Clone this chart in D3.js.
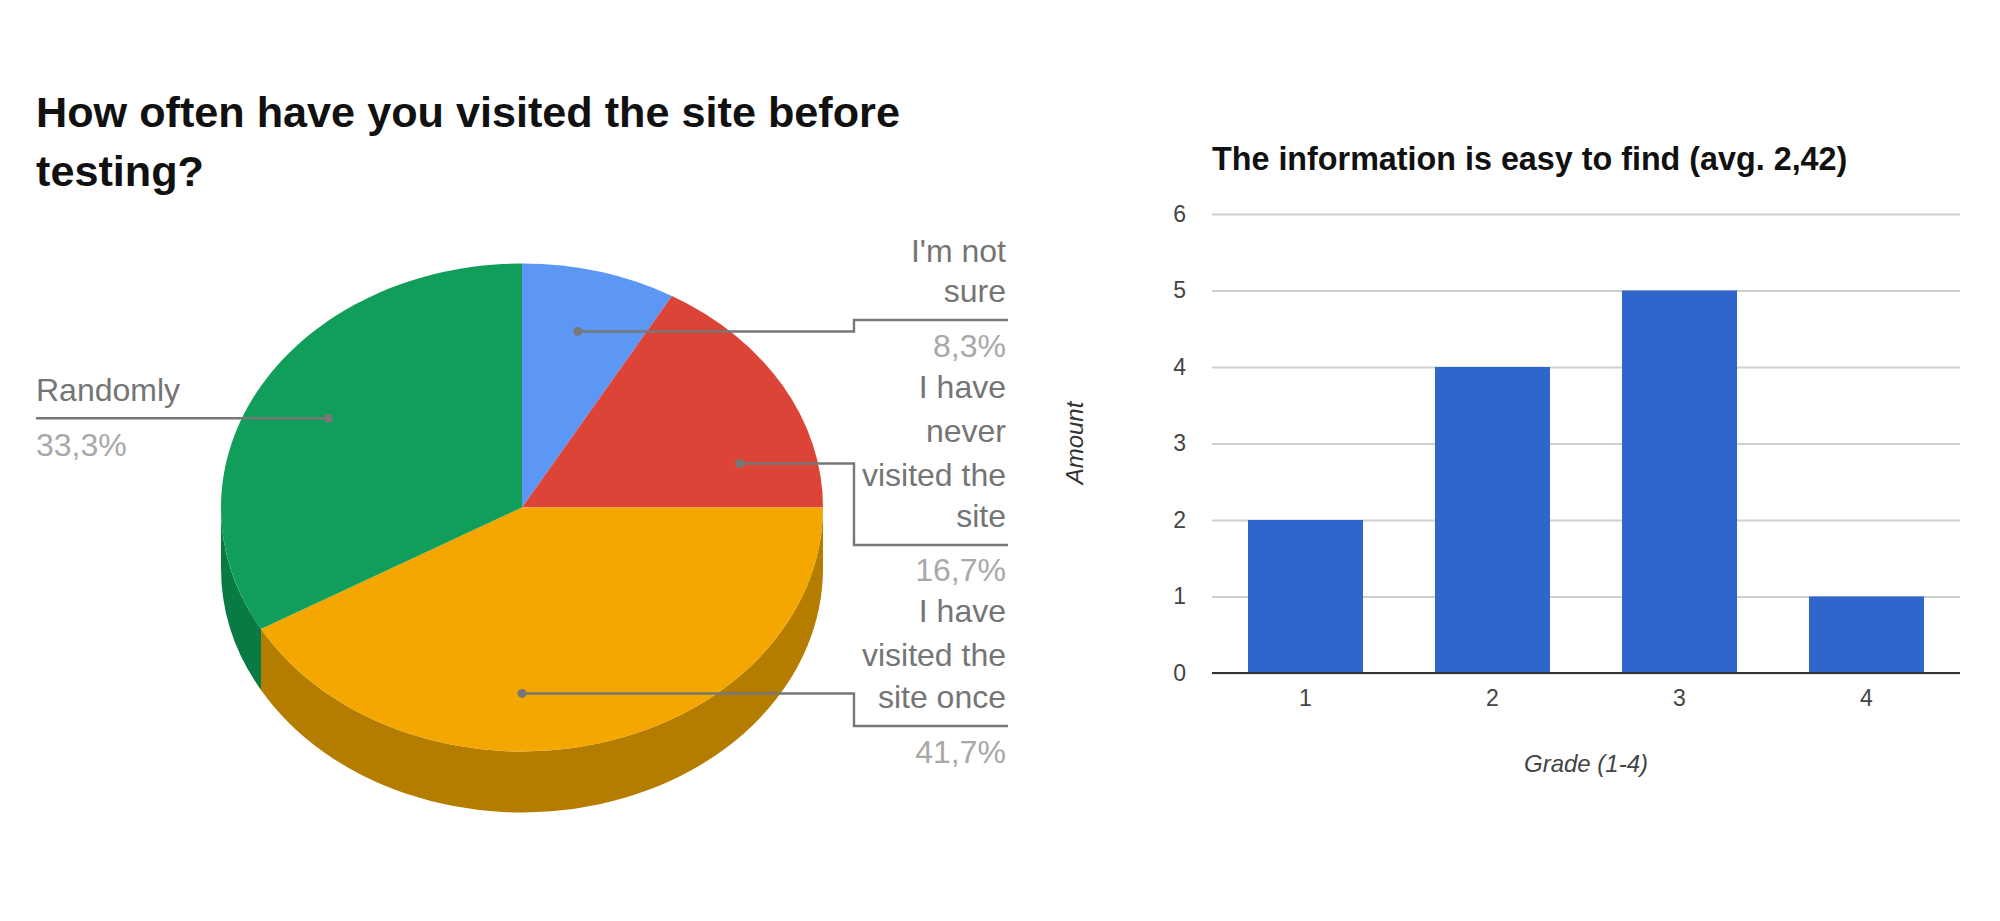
<!DOCTYPE html>
<html>
<head>
<meta charset="utf-8">
<title>Survey charts</title>
<script src="https://cdn.jsdelivr.net/npm/d3@7"></script>
<style>
    html, body { margin: 0; padding: 0; background: #fff; }
    svg { display: block; }
    text { font-family: "Liberation Sans", Arial, sans-serif; }
</style>
</head>
<body>
<svg id="chart" width="2000" height="921"></svg>
<script>
// pie data
var pieTitle = ["How often have you visited the site before", "testing?"];
var pieNames = [["I'm not", "sure"], ["I have", "never", "visited the", "site"], ["I have", "visited the", "site once"], ["Randomly"]];
var pieShares = [8.3, 16.7, 41.7, 33.3];
var pieLabels = ["8,3%", "16,7%", "41,7%", "33,3%"];
var pieColors = ["#5c97f6", "#db4437", "#f4a700", "#119e5a"];
var pieSideColors = ["#3f6bb0", "#9a2f27", "#b57d00", "#0a7a45"];

// bar data
var barTitle = "The information is easy to find (avg. 2,42)";
var grades = ["1", "2", "3", "4"];
var amounts = [2, 4, 5, 1];
var amountTicks = [0, 1, 2, 3, 4, 5, 6];

var svg = d3.select("#chart");

// ---- 3d pie ----
var cx = 522, cy = 507.5, rx = 301, ry = 244, depth = 61;
var squash = ry / rx;

var slices = d3.pie().value(function (d) { return d; }).sort(null)(pieShares);
var arc = d3.arc().innerRadius(0).outerRadius(rx);

function ptX(a) { return cx + rx * Math.sin(a); }
function ptY(a) { return cy - ry * Math.cos(a); }

// side wall, only the front half of the ellipse shows
var sides = svg.append("g");
slices.forEach(function (s, i) {
    var a0 = Math.max(s.startAngle, Math.PI / 2);
    var a1 = Math.min(s.endAngle, Math.PI * 1.5);
    if (a1 <= a0) return;
    var d = "M" + ptX(a0) + "," + ptY(a0) +
        "A" + rx + "," + ry + " 0 0 1 " + ptX(a1) + "," + ptY(a1) +
        "L" + ptX(a1) + "," + (ptY(a1) + depth) +
        "A" + rx + "," + ry + " 0 0 0 " + ptX(a0) + "," + (ptY(a0) + depth) + "Z";
    sides.append("path").attr("d", d).attr("fill", pieSideColors[i]);
});

svg.append("g")
    .attr("transform", "translate(" + cx + "," + cy + ") scale(1," + squash + ")")
    .selectAll("path")
    .data(slices)
    .enter()
    .append("path")
    .attr("d", arc)
    .attr("fill", function (d, i) { return pieColors[i]; });

// leader lines
var leaderAngle = [14.4, 76, 180, 299.6];
var leaderRadius = [0.745, 0.745, 0.762, 0.74];
var elbowX = 854, endX = 1008, leftX = 36;
var leaderEndY = [320, 545, 726, 419];

var leaders = svg.append("g");
var lineGen = d3.line();
leaderAngle.forEach(function (deg, i) {
    var a = deg * Math.PI / 180;
    var px = cx + rx * leaderRadius[i] * Math.sin(a);
    var py = cy - ry * leaderRadius[i] * Math.cos(a);
    var pts = i === 3
        ? [[px, py], [leftX, py]]
        : [[px, py], [elbowX, py], [elbowX, leaderEndY[i]], [endX, leaderEndY[i]]];
    leaders.append("path")
        .attr("d", lineGen(pts))
        .attr("fill", "none")
        .attr("stroke", "#777")
        .attr("stroke-width", 2.4);
    leaders.append("circle")
        .attr("cx", px).attr("cy", py).attr("r", 4.5)
        .attr("fill", "#777");
});

// pie labels
var nameBaselines = [[262, 302], [398, 442, 486, 527], [622, 666, 708], [401]];
var pctBaselines = [357, 581, 763, 456];
var labelGroup = svg.append("g").attr("font-size", 32);
pieNames.forEach(function (lines, i) {
    var left = i === 3;
    lines.forEach(function (t, j) {
        labelGroup.append("text")
            .attr("x", left ? leftX : endX - 2)
            .attr("y", nameBaselines[i][j])
            .attr("text-anchor", left ? "start" : "end")
            .attr("fill", "#757575")
            .text(t);
    });
    labelGroup.append("text")
        .attr("x", left ? leftX : endX - 2)
        .attr("y", pctBaselines[i])
        .attr("text-anchor", left ? "start" : "end")
        .attr("fill", "#a8a8a8")
        .text(pieLabels[i]);
});

svg.append("g").selectAll("text")
    .data(pieTitle)
    .enter()
    .append("text")
    .attr("x", 36)
    .attr("y", function (d, i) { return 127 + i * 59; })
    .attr("font-size", 43.2)
    .attr("font-weight", "bold")
    .attr("fill", "#111")
    .text(function (d) { return d; });

// ---- bar chart ----
var x = d3.scaleBand().domain(grades).range([1212, 1960]).paddingInner(0.385).paddingOuter(0.1925);
var y = d3.scaleLinear().domain([0, 6]).range([673, 214]);

var yAxis = svg.append("g")
    .attr("transform", "translate(1212,0)")
    .call(d3.axisLeft(y).tickValues(amountTicks).tickFormat(d3.format("d")).tickSize(-748).tickPadding(26));
yAxis.select(".domain").remove();
yAxis.selectAll("line").attr("stroke", "#cfcfcf").attr("stroke-width", 2);
yAxis.selectAll("text")
    .attr("font-family", "Liberation Sans")
    .attr("font-size", 23)
    .attr("fill", "#444");

svg.append("g").selectAll("rect")
    .data(amounts)
    .enter()
    .append("rect")
    .attr("x", function (d, i) { return x(grades[i]); })
    .attr("y", function (d) { return y(d); })
    .attr("width", x.bandwidth())
    .attr("height", function (d) { return y(0) - y(d); })
    .attr("fill", "#3066cc");

var xAxis = svg.append("g")
    .attr("transform", "translate(0,673)")
    .call(d3.axisBottom(x).tickSize(0).tickPadding(17));
xAxis.select(".domain").remove();
xAxis.selectAll("text")
    .attr("font-family", "Liberation Sans")
    .attr("font-size", 23)
    .attr("fill", "#444");

svg.append("line")
    .attr("x1", 1212).attr("x2", 1960)
    .attr("y1", y(0)).attr("y2", y(0))
    .attr("stroke", "#333").attr("stroke-width", 2);

svg.append("text")
    .attr("x", 1212).attr("y", 170)
    .attr("font-size", 32.3)
    .attr("font-weight", "bold")
    .attr("fill", "#111")
    .text(barTitle);

svg.append("text")
    .attr("x", 1586).attr("y", 772)
    .attr("text-anchor", "middle")
    .attr("font-size", 24)
    .attr("font-style", "italic")
    .attr("fill", "#444")
    .text("Grade (1-4)");

svg.append("text")
    .attr("transform", "translate(1083,443) rotate(-90)")
    .attr("text-anchor", "middle")
    .attr("font-size", 24)
    .attr("font-style", "italic")
    .attr("fill", "#333")
    .text("Amount");
</script>
</body>
</html>
